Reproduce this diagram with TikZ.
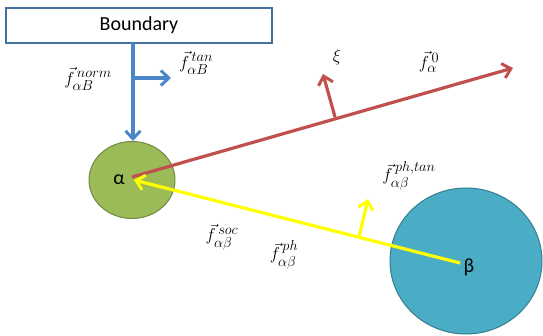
\documentclass[tikz,border=0pt]{standalone}
\usepackage{fontspec}
\setmainfont{Carlito}
\usepackage{amsmath}
\newcommand{\myscr}[1]{\mbox{\fontsize{15}{17}\selectfont$#1$}}
\usetikzlibrary{arrows.meta,shapes.geometric}
\definecolor{bline}{RGB}{74,134,200}
\definecolor{bbox}{RGB}{65,113,156}
\definecolor{rline}{RGB}{192,80,77}
\definecolor{gfill}{RGB}{155,187,89}
\definecolor{gdraw}{RGB}{113,137,63}
\definecolor{cfill}{RGB}{75,172,198}
\definecolor{cdraw}{RGB}{53,125,145}
\definecolor{yline}{RGB}{255,255,0}
\begin{document}
\begin{tikzpicture}[x=1pt,y=-1pt,
  vec/.style={line width=3.2pt,-{Straight Barb[length=8pt,width=15pt,line width=3pt]}},
  lbl/.style={font=\fontsize{19}{22}\selectfont},
  cellname/.style={font=\fontsize{20}{24}\selectfont}]
\useasboundingbox (0,0) rectangle (543,336);
\node[draw=bbox,line width=1.5pt,minimum width=266pt,minimum height=35pt,inner sep=0pt,
  font=\fontsize{20}{24}\selectfont] (bnd) at (139,25.5) {Boundary};
\node[ellipse,draw=gdraw,fill=gfill,line width=1pt,minimum width=86pt,minimum height=77pt,inner sep=0pt] (a) at (132,180) {};
\node[ellipse,draw=cdraw,fill=cfill,line width=1pt,minimum width=152pt,minimum height=146pt,inner sep=0pt] (b) at (466,261) {};
\coordinate (ac) at (132,177);
\coordinate (atip) at (134,180);
\coordinate (bc) at (460,263);
\coordinate (ftip) at (513,68);
\coordinate (xib) at (335,117);
\coordinate (xit) at (323,74);
\coordinate (bt) at (133,43);
\coordinate (btip) at (133,141);
\coordinate (tb) at (133,78);
\coordinate (tt) at (171,78);
\coordinate (yb) at (359,237);
\coordinate (yt) at (368,199);
% blue
\draw[vec,bline] (bt) -- (btip);
\draw[vec,bline] (tb) -- (tt);
% red
\draw[vec,rline] (ac) -- (ftip);
\draw[vec,rline] (xib) -- (xit);
% yellow
\draw[vec,yline] (bc) -- (atip);
\draw[vec,yline] (yb) -- (yt);
% labels
\node[cellname] (al) at (119,180) {α};
\node[cellname] (bl) at (469,267) {β};
\node[lbl] (lnorm) at (88,79) {$\vec{f}_{\myscr{\alpha B}}^{\,\myscr{norm}}$};
\node[lbl] (ltan) at (196,63) {$\vec{f}_{\myscr{\alpha B}}^{\,\myscr{tan}}$};
\node[lbl] (lxi) at (337,57) {$\xi$};
\node[lbl] (lf0) at (429,62) {$\vec{f}_{\myscr{\alpha}}^{\,\myscr{0}}$};
\node[lbl] (lpht) at (409,176) {$\vec{f}_{\myscr{\alpha\beta}}^{\,\myscr{ph{,}tan}}$};
\node[lbl] (lsoc) at (222,237) {$\vec{f}_{\myscr{\alpha\beta}}^{\,\myscr{soc}}$};
\node[lbl] (lph) at (284,255) {$\vec{f}_{\myscr{\alpha\beta}}^{\,\myscr{ph}}$};
\end{tikzpicture}
\end{document}
